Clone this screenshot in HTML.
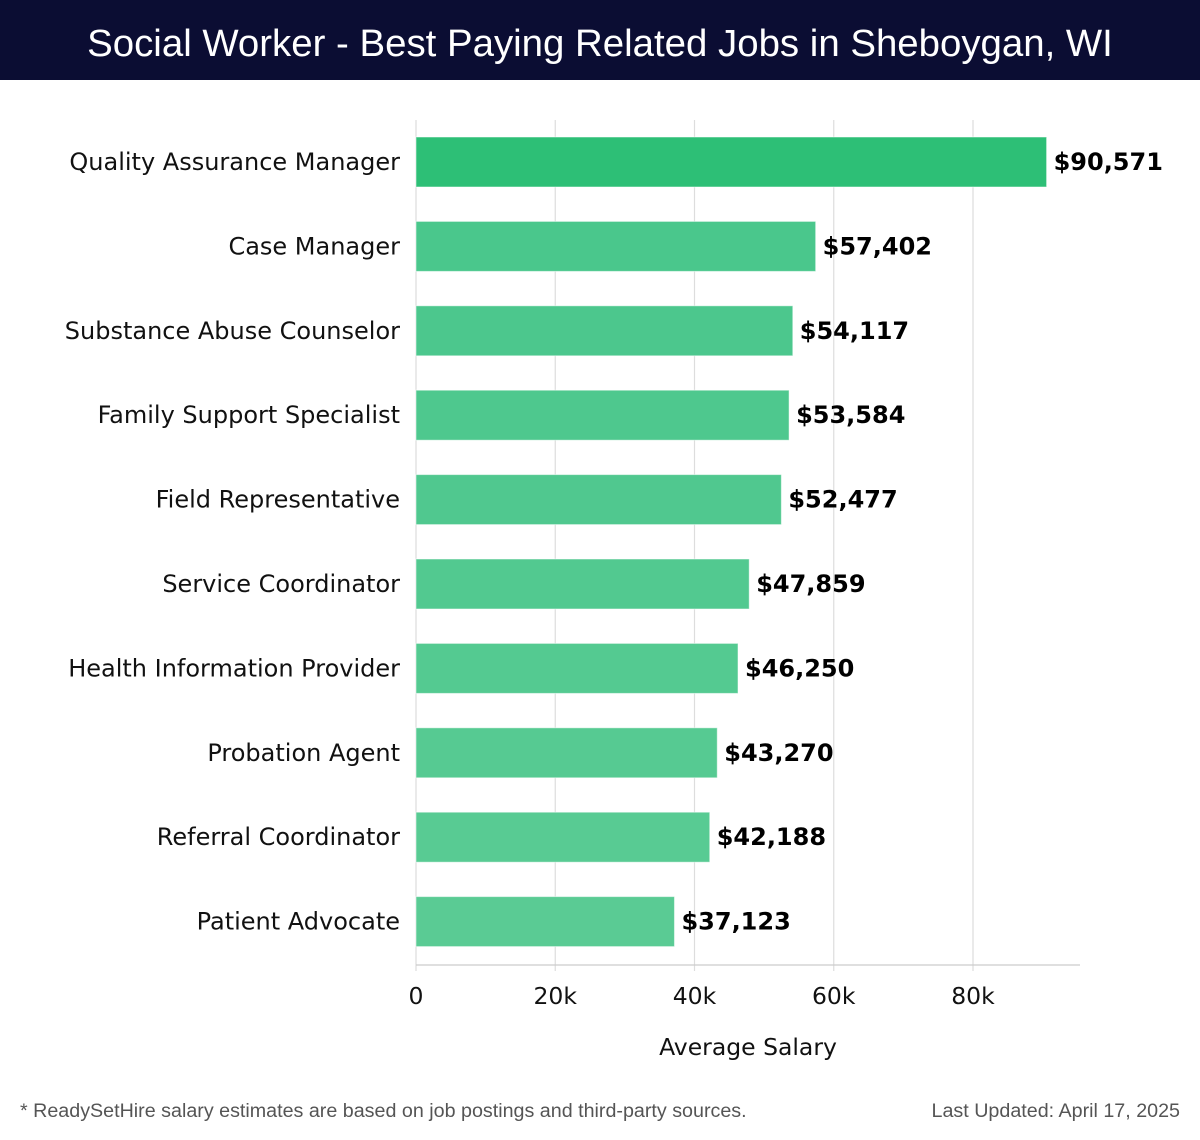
<!DOCTYPE html>
<html><head><meta charset="utf-8"><style>
body{margin:0;width:1200px;height:1140px;background:#fff;overflow:hidden;font-family:"DejaVu Sans","Liberation Sans",sans-serif}
#hdr{position:absolute;left:0;top:0;width:1200px;height:80px;background:#0b0d33;color:#fff;text-align:center;line-height:88px;font-size:38.4px;font-family:"Liberation Sans",sans-serif;font-weight:300}
.foot{position:absolute;top:1100px;font-size:19.7px;color:#555;font-family:"Liberation Sans",sans-serif}
</style></head><body>
<div id="hdr">Social Worker - Best Paying Related Jobs in Sheboygan, WI</div>
<svg id="chart" width="1200" height="1140" style="position:absolute;left:0;top:0"></svg>
<div class="foot" style="left:20px">* ReadySetHire salary estimates are based on job postings and third-party sources.</div>
<div class="foot" style="right:20px">Last Updated: April 17, 2025</div>
<script>
const categories=["Quality Assurance Manager","Case Manager","Substance Abuse Counselor","Family Support Specialist","Field Representative","Service Coordinator","Health Information Provider","Probation Agent","Referral Coordinator","Patient Advocate"];
const salaries=[90571,57402,54117,53584,52477,47859,46250,43270,42188,37123];
const ticks=[0,20000,40000,60000,80000];
const tickLabels=["0","20k","40k","60k","80k"];
const NS="http://www.w3.org/2000/svg";
const svg=document.getElementById('chart');
const x0=416,pxPer=557/80000,top0=120,step=84.4,barH=50;
const xs=v=>x0+v*pxPer;
const yc=i=>top0+42+i*step;
function mk(t,a){const e=document.createElementNS(NS,t);for(const k in a)e.setAttribute(k,a[k]);svg.appendChild(e);return e;}
ticks.forEach((t,i)=>{
 const g=mk('line',{x1:xs(t),x2:xs(t),y1:top0,y2:971,stroke:'#ddd','stroke-width':1.2});
 
 
 const l=mk('text',{x:xs(t),y:1004,'text-anchor':'middle','font-size':23.5,fill:'#111'});
 l.textContent=tickLabels[i];
 
 
});
const ax=mk('line',{x1:x0,x2:1080,y1:965,y2:965,stroke:'#ccc','stroke-width':1.2});


const at=mk('text',{x:748,y:1055,'text-anchor':'middle','font-size':23.5,fill:'#111'});
at.textContent='Average Salary';


categories.forEach((c,i)=>{
 const v=salaries[i];
 const fill=i===0?'#2dbf76':`rgb(${72+i*2},${198+i*0.6},${139+i})`;
 const r=mk('rect',{x:x0,y:yc(i)-barH/2,width:xs(v)-x0,height:barH,fill:fill,stroke:'rgba(255,255,255,0.5)'});
 
 
 const lb=mk('text',{x:400,y:yc(i)+8,'text-anchor':'end','font-size':24,fill:'#111'});
 lb.textContent=c;
 
 
 const vl=mk('text',{x:xs(v)+7,y:yc(i)+8,'font-size':24,'font-weight':'bold',fill:'#000'});
 vl.textContent='$'+v.toLocaleString('en-US');
 
 
});
</script>
</body></html>
